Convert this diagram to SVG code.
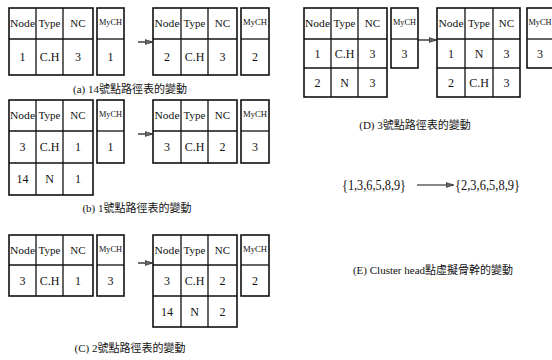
<svg xmlns="http://www.w3.org/2000/svg" width="552" height="360" viewBox="0 0 552 360">
<style>
.c{fill:#fff;stroke:#111;stroke-width:1.6}
.l{stroke:#111;stroke-width:1.3}
.h{font-family:"Liberation Serif",serif;font-size:11px;text-anchor:middle;fill:#111}
.m{font-family:"Liberation Serif",serif;font-size:8.5px;text-anchor:middle;fill:#111}
.v{font-family:"Liberation Serif",serif;font-size:12px;text-anchor:middle;fill:#111}
.cap{font-family:"Liberation Serif","Noto Sans CJK TC",serif;font-size:11px;text-anchor:middle;fill:#111}
.set{font-family:"Liberation Serif",serif;font-size:14px;fill:#111}
.a{stroke:#111;stroke-width:1.2;fill:none}
</style>
<defs>
<marker id="ah" markerWidth="8" markerHeight="6" refX="7" refY="3" orient="auto" markerUnits="userSpaceOnUse">
<path d="M0,0.5 L8,3 L0,5.5 Z" fill="#666" stroke="#111" stroke-width="0.5"/>
</marker>
</defs>

<!-- (a) -->
<g id="a-left">
<rect class="c" x="9" y="8" width="84" height="67"/>
<line class="l" x1="9" y1="39" x2="93" y2="39"/>
<line class="l" x1="36" y1="8" x2="36" y2="75"/>
<line class="l" x1="63" y1="8" x2="63" y2="75"/>
<text class="h" x="22.5" y="27" textLength="25" lengthAdjust="spacingAndGlyphs">Node</text>
<text class="h" x="49.5" y="27">Type</text>
<text class="h" x="78" y="27">NC</text>
<text class="v" x="22.5" y="61">1</text>
<text class="v" x="49.5" y="61">C.H</text>
<text class="v" x="78" y="61">3</text>
</g>
<g id="a-left-mych">
<rect class="c" x="97" y="8" width="27" height="67"/>
<line class="l" x1="97" y1="39" x2="124" y2="39"/>
<text class="m" x="110.5" y="25" textLength="23" lengthAdjust="spacingAndGlyphs">MyCH</text>
<text class="v" x="110.5" y="61">1</text>
</g>
<g id="a-right">
<rect class="c" x="153" y="8" width="84" height="67"/>
<line class="l" x1="153" y1="39" x2="237" y2="39"/>
<line class="l" x1="181" y1="8" x2="181" y2="75"/>
<line class="l" x1="208" y1="8" x2="208" y2="75"/>
<text class="h" x="167" y="27" textLength="25" lengthAdjust="spacingAndGlyphs">Node</text>
<text class="h" x="194.5" y="27">Type</text>
<text class="h" x="222.5" y="27">NC</text>
<text class="v" x="167" y="61">2</text>
<text class="v" x="194.5" y="61">C.H</text>
<text class="v" x="222.5" y="61">3</text>
</g>
<g id="a-right-mych">
<rect class="c" x="241" y="8" width="28" height="67"/>
<line class="l" x1="241" y1="39" x2="269" y2="39"/>
<text class="m" x="255" y="25" textLength="24" lengthAdjust="spacingAndGlyphs">MyCH</text>
<text class="v" x="255" y="61">2</text>
</g>
<text class="cap" x="130" y="93">(a) 14號點路徑表的變動</text>

<!-- (b) -->
<g id="b-left">
<rect class="c" x="9" y="100" width="84" height="95"/>
<line class="l" x1="9" y1="131" x2="93" y2="131"/>
<line class="l" x1="9" y1="163" x2="93" y2="163"/>
<line class="l" x1="36" y1="100" x2="36" y2="195"/>
<line class="l" x1="63" y1="100" x2="63" y2="195"/>
<text class="h" x="22.5" y="119" textLength="25" lengthAdjust="spacingAndGlyphs">Node</text>
<text class="h" x="49.5" y="119">Type</text>
<text class="h" x="78" y="119">NC</text>
<text class="v" x="22.5" y="151">3</text>
<text class="v" x="49.5" y="151">C.H</text>
<text class="v" x="78" y="151">1</text>
<text class="v" x="22.5" y="183">14</text>
<text class="v" x="49.5" y="183">N</text>
<text class="v" x="78" y="183">1</text>
</g>
<g id="b-left-mych">
<rect class="c" x="97" y="100" width="27" height="63"/>
<line class="l" x1="97" y1="131" x2="124" y2="131"/>
<text class="m" x="110.5" y="117" textLength="23" lengthAdjust="spacingAndGlyphs">MyCH</text>
<text class="v" x="110.5" y="151">1</text>
</g>
<g id="b-right">
<rect class="c" x="153" y="100" width="84" height="63"/>
<line class="l" x1="153" y1="131" x2="237" y2="131"/>
<line class="l" x1="181" y1="100" x2="181" y2="163"/>
<line class="l" x1="208" y1="100" x2="208" y2="163"/>
<text class="h" x="167" y="119" textLength="25" lengthAdjust="spacingAndGlyphs">Node</text>
<text class="h" x="194.5" y="119">Type</text>
<text class="h" x="222.5" y="119">NC</text>
<text class="v" x="167" y="151">3</text>
<text class="v" x="194.5" y="151">C.H</text>
<text class="v" x="222.5" y="151">2</text>
</g>
<g id="b-right-mych">
<rect class="c" x="241" y="100" width="28" height="63"/>
<line class="l" x1="241" y1="131" x2="269" y2="131"/>
<text class="m" x="255" y="117" textLength="24" lengthAdjust="spacingAndGlyphs">MyCH</text>
<text class="v" x="255" y="151">3</text>
</g>
<text class="cap" x="137" y="212">(b) 1號點路徑表的變動</text>

<!-- (C) -->
<g id="c-left">
<rect class="c" x="9" y="235" width="84" height="61"/>
<line class="l" x1="9" y1="265" x2="93" y2="265"/>
<line class="l" x1="36" y1="235" x2="36" y2="296"/>
<line class="l" x1="63" y1="235" x2="63" y2="296"/>
<text class="h" x="22.5" y="254" textLength="25" lengthAdjust="spacingAndGlyphs">Node</text>
<text class="h" x="49.5" y="254">Type</text>
<text class="h" x="78" y="254">NC</text>
<text class="v" x="22.5" y="285">3</text>
<text class="v" x="49.5" y="285">C.H</text>
<text class="v" x="78" y="285">1</text>
</g>
<g id="c-left-mych">
<rect class="c" x="97" y="235" width="27" height="61"/>
<line class="l" x1="97" y1="265" x2="124" y2="265"/>
<text class="m" x="110.5" y="252" textLength="23" lengthAdjust="spacingAndGlyphs">MyCH</text>
<text class="v" x="110.5" y="285">3</text>
</g>
<g id="c-right">
<rect class="c" x="153" y="235" width="84" height="92"/>
<line class="l" x1="153" y1="265" x2="237" y2="265"/>
<line class="l" x1="153" y1="296" x2="237" y2="296"/>
<line class="l" x1="181" y1="235" x2="181" y2="327"/>
<line class="l" x1="208" y1="235" x2="208" y2="327"/>
<text class="h" x="167" y="254" textLength="25" lengthAdjust="spacingAndGlyphs">Node</text>
<text class="h" x="194.5" y="254">Type</text>
<text class="h" x="222.5" y="254">NC</text>
<text class="v" x="167" y="285">3</text>
<text class="v" x="194.5" y="285">C.H</text>
<text class="v" x="222.5" y="285">2</text>
<text class="v" x="167" y="316">14</text>
<text class="v" x="194.5" y="316">N</text>
<text class="v" x="222.5" y="316">2</text>
</g>
<g id="c-right-mych">
<rect class="c" x="241" y="235" width="28" height="61"/>
<line class="l" x1="241" y1="265" x2="269" y2="265"/>
<text class="m" x="255" y="252" textLength="24" lengthAdjust="spacingAndGlyphs">MyCH</text>
<text class="v" x="255" y="285">2</text>
</g>
<text class="cap" x="130" y="352">(C) 2號點路徑表的變動</text>

<!-- (D) -->
<g id="d-left">
<rect class="c" x="304" y="8" width="83" height="89"/>
<line class="l" x1="304" y1="39" x2="387" y2="39"/>
<line class="l" x1="304" y1="68" x2="387" y2="68"/>
<line class="l" x1="331" y1="8" x2="331" y2="97"/>
<line class="l" x1="358" y1="8" x2="358" y2="97"/>
<text class="h" x="317.5" y="27" textLength="25" lengthAdjust="spacingAndGlyphs">Node</text>
<text class="h" x="344.5" y="27">Type</text>
<text class="h" x="372.5" y="27">NC</text>
<text class="v" x="317.5" y="58">1</text>
<text class="v" x="344.5" y="58">C.H</text>
<text class="v" x="372.5" y="58">3</text>
<text class="v" x="317.5" y="87">2</text>
<text class="v" x="344.5" y="87">N</text>
<text class="v" x="372.5" y="87">3</text>
</g>
<g id="d-left-mych">
<rect class="c" x="391" y="8" width="27" height="60"/>
<line class="l" x1="391" y1="39" x2="418" y2="39"/>
<text class="m" x="404.5" y="25" textLength="23" lengthAdjust="spacingAndGlyphs">MyCH</text>
<text class="v" x="404.5" y="58">3</text>
</g>
<g id="d-right">
<rect class="c" x="437" y="8" width="83" height="89"/>
<line class="l" x1="437" y1="39" x2="520" y2="39"/>
<line class="l" x1="437" y1="68" x2="520" y2="68"/>
<line class="l" x1="465" y1="8" x2="465" y2="97"/>
<line class="l" x1="493" y1="8" x2="493" y2="97"/>
<text class="h" x="451" y="27" textLength="25" lengthAdjust="spacingAndGlyphs">Node</text>
<text class="h" x="479" y="27">Type</text>
<text class="h" x="506.5" y="27">NC</text>
<text class="v" x="451" y="58">1</text>
<text class="v" x="479" y="58">N</text>
<text class="v" x="506.5" y="58">3</text>
<text class="v" x="451" y="87">2</text>
<text class="v" x="479" y="87">C.H</text>
<text class="v" x="506.5" y="87">3</text>
</g>
<g id="d-right-mych">
<rect class="c" x="527" y="8" width="28" height="60"/>
<line class="l" x1="527" y1="39" x2="555" y2="39"/>
<text class="m" x="540" y="25" textLength="23" lengthAdjust="spacingAndGlyphs">MyCH</text>
<text class="v" x="540" y="58">3</text>
</g>
<text class="cap" x="415" y="129">(D) 3號點路徑表的變動</text>

<!-- (E) -->
<g id="e-before"><text class="set" x="342" y="190" textLength="64" lengthAdjust="spacingAndGlyphs">{1,3,6,5,8,9}</text></g>
<g id="e-after"><text class="set" x="455" y="190" textLength="65" lengthAdjust="spacingAndGlyphs">{2,3,6,5,8,9}</text></g>
<text class="cap" x="433" y="274">(E) Cluster head點虛擬骨幹的變動</text>

<g id="connectors">
<line class="a" x1="138" y1="42" x2="152" y2="42" marker-end="url(#ah)"/>
<line class="a" x1="138" y1="134" x2="152" y2="134" marker-end="url(#ah)"/>
<line class="a" x1="138" y1="263" x2="152" y2="263" marker-end="url(#ah)"/>
<line class="a" x1="418" y1="40" x2="436" y2="40" marker-end="url(#ah)"/>
<line class="a" x1="417" y1="185" x2="453" y2="185" marker-end="url(#ah)"/>
</g>
</svg>
